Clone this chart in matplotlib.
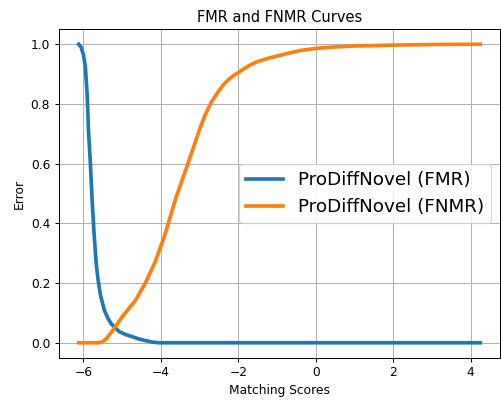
#!/usr/bin/env python3
"""FMR / FNMR curves against matching score."""

import matplotlib

matplotlib.use("Agg")
import matplotlib.pyplot as plt

# False match rate (blue)
FMR_SCORES = [-6.12, -6.06, -6.0, -5.95, -5.90, -5.87, -5.82, -5.78, -5.73,
              -5.67, -5.62, -5.56, -5.46, -5.37, -5.29, -5.18, -5.07, -4.9,
              -4.73, -4.55, -4.39, -4.2, -4.05, -3.0, 0.0, 4.25]
FMR_VALUES = [1.0, 0.99, 0.965, 0.925, 0.823, 0.712, 0.60, 0.49, 0.376,
              0.265, 0.21, 0.16, 0.109, 0.083, 0.065, 0.05, 0.037, 0.027,
              0.020, 0.012, 0.007, 0.002, 0.0, 0.0, 0.0, 0.0]

# False non-match rate (orange)
FNMR_SCORES = [-6.12, -5.6, -5.5, -5.4, -5.25, -5.0, -4.65, -4.4, -4.15,
               -3.9, -3.6, -3.3, -3.0, -2.85, -2.7, -2.55, -2.4, -2.25, -2.1,
               -2.0, -1.85, -1.7, -1.5, -1.2, -0.8, -0.4, 0.0, 0.5, 1.0,
               2.0, 3.0, 4.25]
FNMR_VALUES = [0.0, 0.0, 0.004, 0.015, 0.04, 0.087, 0.143, 0.2, 0.27,
               0.36, 0.49, 0.6, 0.715, 0.765, 0.805, 0.835, 0.862, 0.882, 0.897,
               0.905, 0.918, 0.93, 0.942, 0.954, 0.967, 0.979, 0.986, 0.991,
               0.994, 0.997, 0.999, 1.0]

DPI = 88
W_PX, H_PX = 502, 401


def main() -> None:
    fig = plt.figure(figsize=(W_PX / DPI, H_PX / DPI), dpi=DPI)
    ax = fig.add_axes([58.7 / W_PX, 1 - 357.7 / H_PX, 441.6 / W_PX, 328.4 / H_PX])

    ax.plot(FMR_SCORES, FMR_VALUES, color="#1f77b4", linewidth=3,
            label="ProDiffNovel (FMR)")
    ax.plot(FNMR_SCORES, FNMR_VALUES, color="#ff7f0e", linewidth=3,
            label="ProDiffNovel (FNMR)")

    ax.set_title("FMR and FNMR Curves")
    ax.set_xlabel("Matching Scores")
    ax.set_ylabel("Error")
    ax.grid(True)
    ax.legend(loc="center right", fontsize=15)

    fig.savefig("out.png", dpi=DPI)
    plt.close(fig)


if __name__ == "__main__":
    main()
